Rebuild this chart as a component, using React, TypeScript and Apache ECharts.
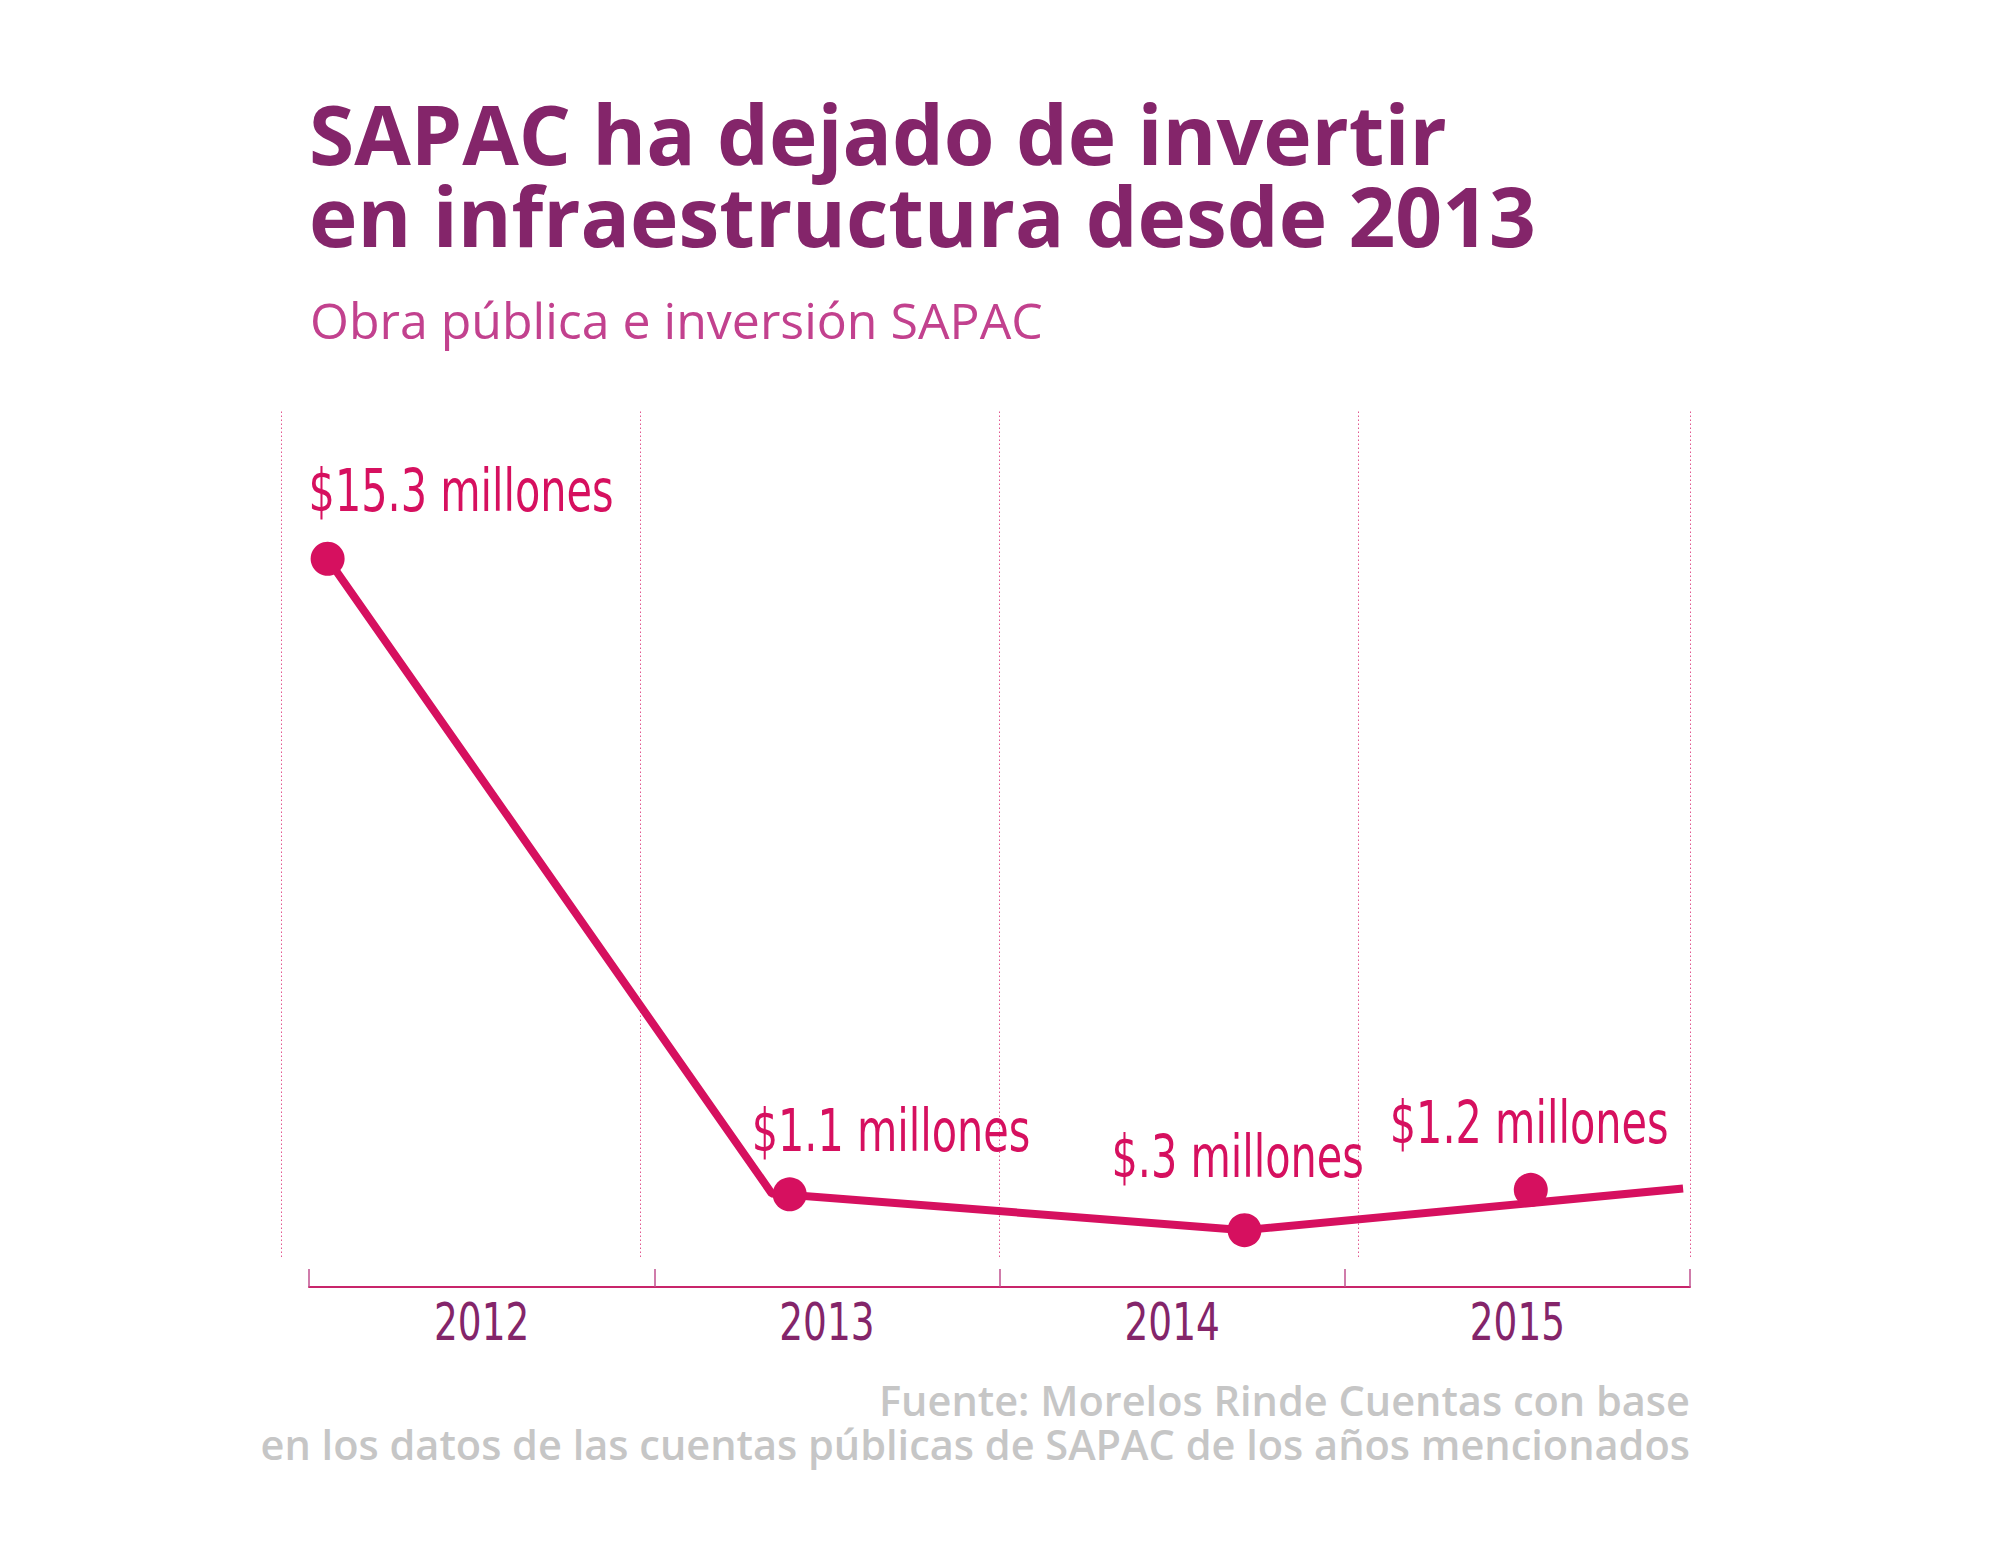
import React, { useEffect, useRef } from "react";
import * as echarts from "echarts";

// Category tick labels of the bottom axis
const years = ["2012", "2013", "2014", "2015"];
// Values (millions of pesos) for each year
const values = [15.3, 1.1, 0.3, 1.2];
const valueLabels = ["$15.3 millones", "$1.1 millones", "$.3 millones", "$1.2 millones"];
// Horizontal placement of each dot, in year units (2011.5 = left edge of the 2012 band)
const dotYearPos = [2011.555, 2012.893, 2014.21, 2015.039];
// Vertices of the drawn line (it does not pass exactly through every dot in the original)
const lineYearPos = [2011.555, 2012.841, 2014.21, 2015.48];
const lineValues = [15.3, 1.12, 0.3, 1.23];
// Vertical dotted guide lines, in year units
const guidePos = [2011.42, 2012.456, 2013.499, 2014.544, 2015.5];

const PINK = "#D6105F";
const PURPLE = "#84256A";
const CONDENSED = "'DejaVu Sans Condensed', 'DejaVu Sans', sans-serif";

// label offsets relative to each dot (style only)
const labelOffsets = [
  [-19, -68],
  [-38, -64],
  [-133, -74],
  [-141, -67],
];

export default function App() {
  const ref = useRef<HTMLDivElement>(null);
  useEffect(() => {
    if (!ref.current) return;
    const chart = echarts.init(ref.current, null, { renderer: "svg" });
    const dotData = values.map((v, i) => [dotYearPos[i], v]);
    const lineData = lineValues.map((v, i) => [lineYearPos[i], v]);

    const staticTexts: any[] = [
      { text: "SAPAC ha dejado de invertir", x: 309, y: 133, align: "left", font: "bold 82px 'Open Sans', sans-serif", fill: PURPLE },
      { text: "en infraestructura desde 2013", x: 309, y: 215, align: "left", font: "bold 82px 'Open Sans', sans-serif", fill: PURPLE },
      { text: "Obra pública e inversión SAPAC", x: 310, y: 320, align: "left", font: "50px 'Open Sans', sans-serif", fill: "#C2418E" },
      { text: "Fuente: Morelos Rinde Cuentas con base", x: 1690, y: 1400, align: "right", font: "600 41.5px 'Open Sans', sans-serif", fill: "#C6C6C6" },
      { text: "en los datos de las cuentas públicas de SAPAC de los años mencionados", x: 1690, y: 1444, align: "right", font: "600 41.5px 'Open Sans', sans-serif", fill: "#C6C6C6" },
    ];

    chart.setOption({
      animation: false,
      backgroundColor: "#ffffff",
      grid: [
        { left: 281, right: 310, top: 411, bottom: 311 },
        { left: 309, right: 310, top: 1269, height: 18 },
      ],
      xAxis: [
        { gridIndex: 0, type: "value", min: 2011.42, max: 2015.5, show: false },
        {
          gridIndex: 1,
          type: "category",
          data: years,
          boundaryGap: true,
          axisLine: { show: true, lineStyle: { color: "#C8256B", width: 2 } },
          axisTick: { show: true, inside: true, length: 18, lineStyle: { color: "#C0508F", width: 1.5 } },
          axisLabel: { show: false },
          splitLine: { show: false },
        },
      ],
      yAxis: [
        { gridIndex: 0, type: "value", min: -0.3, max: 18.6, show: false },
        { gridIndex: 1, type: "value", min: 0, max: 1, show: false },
      ],
      series: [
        {
          type: "line",
          xAxisIndex: 0,
          yAxisIndex: 0,
          data: lineData,
          symbol: "none",
          lineStyle: { color: PINK, width: 8 },
          markLine: {
            silent: true,
            symbol: ["none", "none"],
            label: { show: false },
            lineStyle: { color: "rgba(214,16,95,0.7)", type: [1.5, 2.5], width: 1 },
            data: guidePos.map((v) => ({ xAxis: v })),
          },
          z: 2,
        },
        {
          type: "scatter",
          xAxisIndex: 0,
          yAxisIndex: 0,
          data: dotData,
          symbol: "circle",
          symbolSize: 34,
          itemStyle: { color: PINK, opacity: 1 },
          z: 3,
        },
      ],
    });

    // Condensed texts (value labels and year labels) placed through the chart's own scales
    const graphics: any[] = staticTexts.map((t) => ({
      type: "text",
      x: t.x,
      y: t.y,
      style: { text: t.text, x: 0, y: 0, textAlign: t.align, textVerticalAlign: "middle", font: t.font, fill: t.fill },
    }));
    values.forEach((v, i) => {
      const p = chart.convertToPixel({ seriesIndex: 1 }, [dotYearPos[i], v]) as number[];
      graphics.push({
        type: "text",
        x: p[0] + labelOffsets[i][0],
        y: p[1] + labelOffsets[i][1],
        scaleX: 0.78,
        style: {
          text: valueLabels[i],
          x: 0,
          y: 0,
          textAlign: "left",
          textVerticalAlign: "middle",
          font: `59px ${CONDENSED}`,
          fill: PINK,
        },
      });
    });
    years.forEach((yr) => {
      const px = chart.convertToPixel({ xAxisIndex: 1 }, yr) as number;
      graphics.push({
        type: "text",
        x: px,
        y: 1322,
        scaleX: 0.8,
        style: {
          text: yr,
          x: 0,
          y: 0,
          textAlign: "center",
          textVerticalAlign: "middle",
          font: `52px ${CONDENSED}`,
          fill: PURPLE,
        },
      });
    });
    chart.setOption({ graphic: graphics });

    return () => chart.dispose();
  }, []);
  return (
    <div
      ref={ref}
      style={{ position: "absolute", left: 0, top: 0, width: 2000, height: 1568 }}
    />
  );
}
